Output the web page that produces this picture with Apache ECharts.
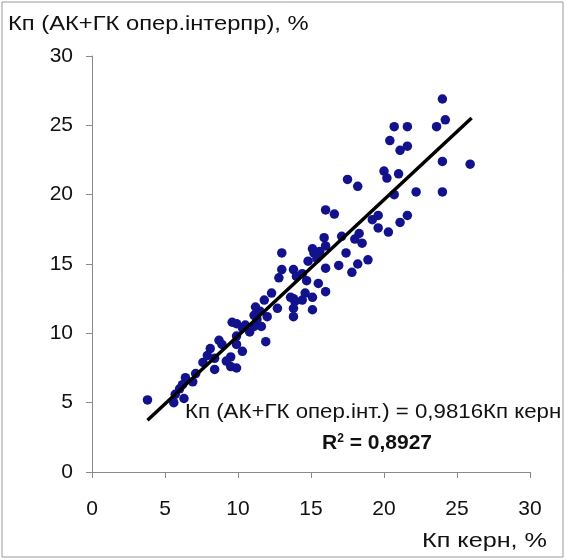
<!DOCTYPE html>
<html>
<head>
<meta charset="utf-8">
<script src="https://cdn.jsdelivr.net/npm/echarts@6/dist/echarts.min.js"></script>
<style>html,body{margin:0;padding:0;background:#fff;}#c{width:566px;height:560px;}</style>
</head>
<body>
<div id="c"></div>
<script>
// Кп керн (x) values
var kernX = [
24.0,24.2,23.6,20.7,21.6,20.4,21.1,21.6,24.0,25.9,
20.0,20.2,21.0,17.5,18.2,22.2,24.0,20.7,16.0,16.6,
19.6,19.2,21.6,21.1,19.6,20.3,18.3,18.0,18.5,15.9,
17.1,15.1,16.0,15.2,15.6,15.4,17.4,14.8,18.9,18.2,
16.9,16.0,17.8,14.4,14.7,15.5,16.0,14.6,15.1,14.4,
15.1,
13.0,13.0,13.8,12.8,14.0,12.3,13.6,13.8,11.8,13.9,
11.2,12.7,13.8,11.5,11.1,13.8,12.0,9.6,9.9,11.3,
10.5,11.6,11.1,10.3,10.8,9.9,11.9,8.7,8.1,8.9,
9.9,7.9,9.5,10.3,8.4,9.2,7.6,9.5,9.9,8.4,
7.1,6.4,6.2,6.9,6.0,5.7,6.3,5.6,3.8
];
// Кп (АК+ГК опер.інтерпр) (y) values
var interpY = [
26.9,25.4,24.9,24.9,24.9,23.9,23.2,23.5,22.4,22.2,
21.7,21.2,21.5,21.1,20.6,20.2,20.2,20.0,18.9,18.6,
18.5,18.2,18.5,18.0,17.6,17.3,17.2,16.8,16.5,16.9,
17.0,16.1,16.3,15.8,15.9,15.4,15.8,15.2,15.3,15.0,
14.9,14.7,14.4,14.3,13.8,13.6,13.0,12.9,12.6,12.4,
11.7,
15.8,14.6,14.6,14.0,14.1,12.9,12.6,12.5,12.4,12.3,
11.9,11.8,11.8,11.6,11.3,11.2,11.2,10.8,10.7,11.0,
10.6,10.5,10.5,10.4,10.1,9.8,9.4,9.5,8.9,9.2,
9.2,8.4,8.3,8.7,8.2,8.0,7.9,7.6,7.5,7.4,
7.1,6.8,6.3,6.5,6.0,5.6,5.3,5.0,5.2
];
var trendX = [3.8, 26.0];
var slope = 0.9816;
var xTicks = [0, 5, 10, 15, 20, 25, 30];
var yTicks = [0, 5, 10, 15, 20, 25, 30];

var pts = kernX.map(function (x, i) { return [x, interpY[i]]; });
var trend = trendX.map(function (x) { return [x, +(x * slope).toFixed(3)]; });

var chart = echarts.init(document.getElementById('c'), null, {renderer: 'canvas'});
var font = 'Liberation Sans, Arial, sans-serif';
chart.setOption({
  animation: false,
  backgroundColor: '#fff',
  grid: {left: 92, right: 36, top: 56, bottom: 88, containLabel: false},
  xAxis: {
    type: 'value', min: 0, max: 30, interval: 5,
    axisLine: {show: true, lineStyle: {color: '#8a8a8a', width: 1}},
    axisTick: {show: true, length: 6, lineStyle: {color: '#8a8a8a'}},
    splitLine: {show: false},
    axisLabel: {color: '#111', fontSize: 21, fontFamily: font, margin: 27}
  },
  yAxis: {
    type: 'value', min: 0, max: 30, interval: 5,
    axisLine: {show: true, lineStyle: {color: '#8a8a8a', width: 1}},
    axisTick: {show: true, length: 6, lineStyle: {color: '#8a8a8a'}},
    splitLine: {show: false},
    axisLabel: {color: '#111', fontSize: 21, fontFamily: font, margin: 19}
  },
  series: [
    {
      type: 'scatter', data: pts, symbolSize: 9.5,
      itemStyle: {color: '#12128c', opacity: 1}, z: 2
    },
    {
      type: 'line', data: trend, showSymbol: false, symbol: 'none',
      lineStyle: {color: '#000', width: 3.5}, z: 3
    }
  ],
  graphic: [
    {type: 'rect', x: 2, y: 2, shape: {width: 561, height: 555},
     style: {fill: 'none', stroke: '#9a9a9a', lineWidth: 1}, silent: true},
    {type: 'text', x: 8, y: 14, scaleX: 1.13,
     style: {text: 'Кп (АК+ГК опер.інтерпр), %', fontSize: 21, fontFamily: font, fill: '#111', verticalAlign: 'top'}},
    {type: 'text', x: 422, y: 531, scaleX: 1.2,
     style: {text: 'Кп керн, %', fontSize: 21, fontFamily: font, fill: '#111', verticalAlign: 'top'}},
    {type: 'text', x: 185, y: 402, scaleX: 1.06,
     style: {text: 'Кп (АК+ГК опер.інт.) = 0,9816Кп керн', fontSize: 21, fontFamily: font, fill: '#111', verticalAlign: 'top'}},
    {type: 'text', x: 322, y: 433,
     style: {rich: {
       a: {fontSize: 21, fontWeight: 'bold', fontFamily: font, fill: '#111'},
       s: {fontSize: 12, fontWeight: 'bold', fontFamily: font, fill: '#111', verticalAlign: 'top', padding: [0,0,9,0]}
     }, text: '{a|R}{s|2}{a| = 0,8927}', verticalAlign: 'top'}}
  ]
});
</script>
</body>
</html>
